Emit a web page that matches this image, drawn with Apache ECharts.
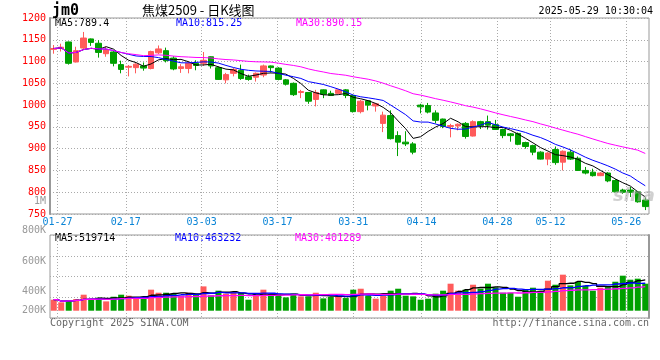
<!DOCTYPE html>
<html><head><meta charset="utf-8">
<script src="https://cdn.jsdelivr.net/npm/echarts@6/dist/echarts.min.js"></script>
<style>html,body{margin:0;padding:0;background:#fff}#c{width:660px;height:360px}</style>
</head><body><div id="c"></div>
<script>
const dates = ['01-24','01-27','02-05','02-06','02-07','02-10','02-11','02-12','02-13','02-14',
'02-17','02-18','02-19','02-20','02-21','02-24','02-25','02-26','02-27','02-28',
'03-03','03-04','03-05','03-06','03-07','03-10','03-11','03-12','03-13','03-14',
'03-17','03-18','03-19','03-20','03-21','03-24','03-25','03-26','03-27','03-28',
'03-31','04-01','04-02','04-03','04-07','04-08','04-09','04-10','04-11',
'04-14','04-15','04-16','04-17','04-18','04-21','04-22','04-23','04-24','04-25',
'04-28','04-29','04-30','05-06','05-07','05-08','05-09',
'05-12','05-13','05-14','05-15','05-16','05-19','05-20','05-21','05-22','05-23',
'05-26','05-27','05-28','05-29'];
const tickLabels = ['01-27','02-17','03-03','03-17','03-31','04-14','04-28','05-12','05-26'];
const open  = [1128,1130,1145,1099,1131,1152,1142,1118,1122,1093,1087,1086,1090,1084,1120,1125,1108,1084,1084,1096,
1096,1111,1086,1058,1073,1080,1065,1064,1069,1090,1085,1058,1050,1029,1029,1013,1035,1027,1027,1035,
1022,985,1010,998,958,976,930,915,911,1000,999,982,968,951,952,958,929,962,962,955,
944,934,935,914,907,892,876,898,869,892,878,850,846,838,844,827,805,805,801,782];
const close = [1130,1133,1096,1125,1154,1144,1121,1127,1096,1082,1089,1094,1085,1123,1129,1102,1083,1088,1096,1091,
1103,1090,1059,1070,1082,1061,1059,1073,1090,1086,1059,1048,1024,1031,1009,1029,1025,1022,1035,1022,
985,1009,1000,1003,977,923,915,911,892,996,984,965,951,953,956,928,962,953,954,944,
930,930,910,905,892,876,890,868,894,876,850,844,838,844,826,801,800,800,778,767];
const low   = [1118,1123,1093,1098,1128,1136,1109,1111,1089,1073,1066,1073,1079,1082,1117,1098,1080,1074,1073,1080,
1090,1084,1058,1050,1066,1058,1056,1054,1064,1075,1057,1045,1021,1016,1003,997,1016,1021,1026,1016,
983,981,988,985,938,921,883,906,887,981,981,958,947,926,942,923,928,945,944,943,
924,916,908,900,885,875,862,863,850,874,849,841,836,837,823,800,796,789,776,759];
const high  = [1138,1141,1146,1134,1168,1153,1149,1134,1124,1102,1092,1096,1098,1125,1137,1132,1112,1094,1100,1103,
1122,1112,1089,1074,1085,1093,1070,1075,1093,1091,1087,1060,1052,1035,1030,1035,1036,1033,1037,1037,
1024,1012,1011,1005,985,988,940,940,915,1003,1005,988,969,957,958,961,965,964,976,966,
946,936,937,916,909,894,892,905,896,898,882,858,854,846,846,830,808,812,803,788];
const volume = [184000,140000,167000,195000,268000,195000,218000,156000,234000,268000,
251000,218000,206000,352000,301000,301000,285000,251000,301000,262000,
407000,257000,335000,285000,301000,301000,184000,251000,352000,251000,
285000,223000,285000,240000,240000,301000,206000,229000,229000,212000,
352000,368000,251000,201000,251000,335000,368000,251000,240000,184000,
201000,285000,335000,452000,335000,352000,435000,368000,452000,391000,
301000,301000,234000,352000,385000,335000,502000,435000,603000,424000,
485000,419000,335000,385000,396000,485000,586000,519000,536000,452000];

const RED = '#ff5b5b', GREEN = '#00a000';
function ma(arr, n) {
  return arr.map((_, i) => {
    const s = Math.max(0, i - n + 1); let sum = 0;
    for (let k = s; k <= i; k++) sum += arr[k];
    return +(sum / (i - s + 1)).toFixed(2);
  });
}
const candle = dates.map((d, i) => [open[i], close[i], low[i], high[i]]);
const volBars = volume.map((v, i) => ({ value: v, itemStyle: { color: close[i] >= open[i] ? RED : GREEN } }));
const tickIdx = tickLabels.map(t => dates.indexOf(t));
const isTick = (idx) => tickIdx.indexOf(idx) >= 0;
const MONO = 'DejaVu Sans Mono';
const gridLine = { show: true, lineStyle: { color: '#aaa', type: [1, 2], width: 1 } };

const chart = echarts.init(document.getElementById('c'), null, { renderer: 'canvas' });
chart.setOption({
  animation: false,
  backgroundColor: '#fff',
  grid: [
    { left: 50, top: 18, width: 599, height: 196, show: true, borderColor: '#999', borderWidth: 1, backgroundColor: 'transparent' },
    { left: 50, top: 235, width: 599, height: 83, show: true, borderColor: '#999', borderWidth: 1, backgroundColor: 'transparent' }
  ],
  xAxis: [
    { type: 'category', gridIndex: 0, data: dates, boundaryGap: true, show: false },
    { type: 'category', gridIndex: 0, data: dates, boundaryGap: false, position: 'bottom',
      axisLine: { show: false }, axisTick: { show: false },
      axisLabel: { interval: (i) => isTick(i), color: '#0a84d6', fontFamily: MONO, fontSize: 10, margin: 3 },
      splitLine: Object.assign({ interval: (i) => isTick(i) }, gridLine) },
    { type: 'category', gridIndex: 1, data: dates, boundaryGap: true, show: false },
    { type: 'category', gridIndex: 1, data: dates, boundaryGap: false,
      axisLine: { show: false }, axisTick: { show: false }, axisLabel: { show: false },
      splitLine: Object.assign({ interval: (i) => isTick(i) }, gridLine) }
  ],
  yAxis: [
    { type: 'value', gridIndex: 0, min: 750, max: 1200, interval: 50,
      axisLine: { show: true, lineStyle: { color: '#999', width: 2 } }, axisTick: { show: false },
      axisLabel: { color: '#ff0000', fontFamily: MONO, fontSize: 10, margin: 4, padding: [0, 0, 4, 0],
                   formatter: (v) => String(v) },
      splitLine: gridLine },
    { type: 'value', gridIndex: 1, min: -122000, max: 1267000, show: false },
    { type: 'value', gridIndex: 1, min: 0, max: 4, interval: 1,
      axisLine: { show: true, lineStyle: { color: '#999', width: 2 } }, axisTick: { show: false },
      axisLabel: { show: false }, splitLine: gridLine }
  ],
  series: [
    { type: 'candlestick', xAxisIndex: 0, yAxisIndex: 0, data: candle, barWidth: 6,
      itemStyle: { color: RED, color0: GREEN, borderColor: RED, borderColor0: GREEN, borderWidth: 1 } },
    { type: 'line', xAxisIndex: 0, yAxisIndex: 0, data: ma(close, 5), showSymbol: false, lineStyle: { color: '#000', width: 1 } },
    { type: 'line', xAxisIndex: 0, yAxisIndex: 0, data: ma(close, 10), showSymbol: false, lineStyle: { color: '#0000ff', width: 1 } },
    { type: 'line', xAxisIndex: 0, yAxisIndex: 0, data: ma(close, 30), showSymbol: false, lineStyle: { color: '#ff00ff', width: 1 } },
    { type: 'bar', xAxisIndex: 2, yAxisIndex: 1, data: volBars, barWidth: 6 },
    { type: 'line', xAxisIndex: 2, yAxisIndex: 1, data: ma(volume, 5), step: 'middle', showSymbol: false, lineStyle: { color: '#000', width: 1.3 } },
    { type: 'line', xAxisIndex: 2, yAxisIndex: 1, data: ma(volume, 10), step: 'middle', showSymbol: false, lineStyle: { color: '#0000ff', width: 1.3 } },
    { type: 'line', xAxisIndex: 2, yAxisIndex: 1, data: ma(volume, 30), step: 'middle', showSymbol: false, lineStyle: { color: '#ff00ff', width: 1.3 } }
  ],
  graphic: [
    { type: 'text', left: 52, top: 4, style: { text: 'jm0', font: 'bold 15px "DejaVu Sans Mono"', fill: '#000' } },
    { type: 'text', left: 142, top: 4, style: { text: '焦煤2509 - 日K线图', font: '13px "Noto Sans CJK SC"', fill: '#000' } },
    { type: 'text', right: 7, top: 6, style: { text: '2025-05-29 10:30:04', font: '10px "DejaVu Sans Mono"', fill: '#000' } },
    { type: 'text', left: 55, top: 18, style: { text: 'MA5:789.4', font: '10px "DejaVu Sans Mono"', fill: '#000' } },
    { type: 'text', left: 176, top: 18, style: { text: 'MA10:815.25', font: '10px "DejaVu Sans Mono"', fill: '#0000ff' } },
    { type: 'text', left: 296, top: 18, style: { text: 'MA30:890.15', font: '10px "DejaVu Sans Mono"', fill: '#ff00ff' } },
    { type: 'text', left: 55, top: 233, style: { text: 'MA5:519714', font: '10px "DejaVu Sans Mono"', fill: '#000' } },
    { type: 'text', left: 175, top: 233, style: { text: 'MA10:463232', font: '10px "DejaVu Sans Mono"', fill: '#0000ff' } },
    { type: 'text', left: 295, top: 233, style: { text: 'MA30:401289', font: '10px "DejaVu Sans Mono"', fill: '#ff00ff' } },
    { type: 'text', x: 46, y: 201, style: { text: '1M', font: '10px "DejaVu Sans Mono"', fill: '#999', align: 'right', verticalAlign: 'middle' } },
    { type: 'text', x: 46, y: 230.5, style: { text: '800K', font: '10px "DejaVu Sans Mono"', fill: '#999', align: 'right', verticalAlign: 'middle' } },
    { type: 'text', x: 46, y: 261, style: { text: '600K', font: '10px "DejaVu Sans Mono"', fill: '#999', align: 'right', verticalAlign: 'middle' } },
    { type: 'text', x: 46, y: 291, style: { text: '400K', font: '10px "DejaVu Sans Mono"', fill: '#999', align: 'right', verticalAlign: 'middle' } },
    { type: 'text', x: 46, y: 310.5, style: { text: '200K', font: '10px "DejaVu Sans Mono"', fill: '#999', align: 'right', verticalAlign: 'middle' } },
    { type: 'text', x: 50, y: 323.5, style: { text: 'Copyright 2025 SINA.COM', font: '10px "DejaVu Sans Mono"', fill: '#666', verticalAlign: 'middle' } },
    { type: 'text', x: 649, y: 323.5, style: { text: 'http://finance.sina.com.cn', font: '10px "DejaVu Sans Mono"', fill: '#666', align: 'right', verticalAlign: 'middle' } },
    { type: 'text', x: 634, y: 196, z: 100, style: { text: 'sina', font: 'italic bold 18px "DejaVu Sans"', fill: 'rgba(170,170,170,0.55)', align: 'center', verticalAlign: 'middle' } }
  ]
});
</script></body></html>
